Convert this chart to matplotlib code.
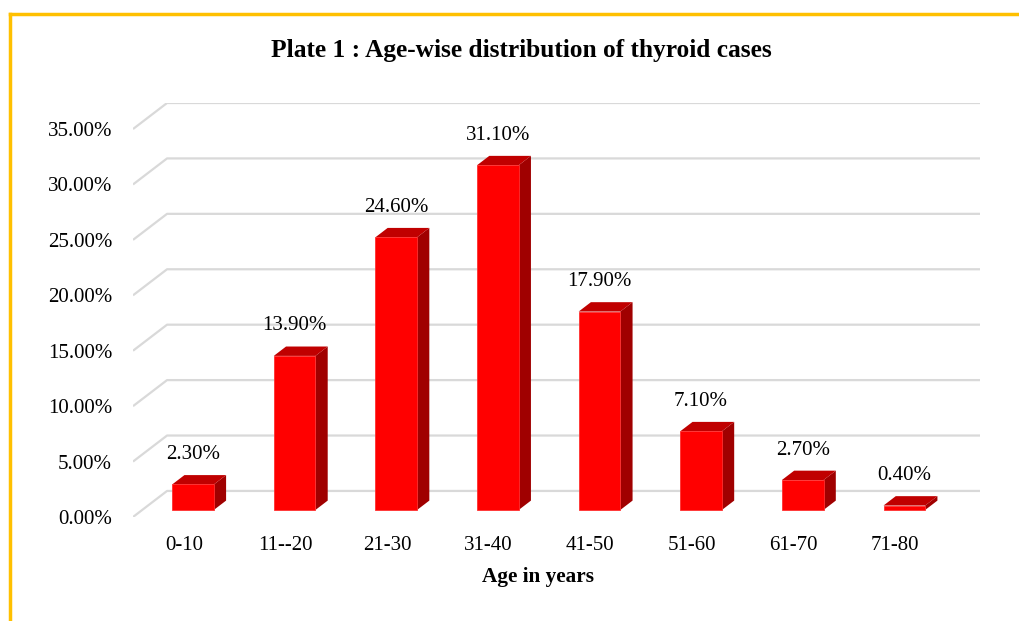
import numpy as np
import matplotlib.pyplot as plt
from matplotlib.patches import Polygon
from matplotlib.lines import Line2D

# data
age_groups = ['0-10', '11--20', '21-30', '31-40', '41-50', '51-60', '61-70', '71-80']
share = [2.3, 13.9, 24.6, 31.1, 17.9, 7.1, 2.7, 0.4]
y_ticks = [0, 5, 10, 15, 20, 25, 30, 35]

# 3d look: depth offset of the floor in data units
DX, DY = 0.335, 2.35
f_front, f_back = 0.27, 0.63
bar_w = 0.41

plt.rcParams['font.family'] = ['Liberation Serif', 'DejaVu Serif']

fig = plt.figure(figsize=(10.19, 6.21), dpi=100)
ax = fig.add_axes([133/1019, 104/621, 847/1019, 414/621])
ax.set_xlim(-0.5, 7.5 + DX)
ax.set_ylim(0, 35 + DY)

# gridlines on a slanted floor/back wall
for v in y_ticks:
    ax.plot([-0.5, -0.5 + DX, 7.5 + DX], [v, v + DY, v + DY],
            color='#d9d9d9', lw=1.6, zorder=1, solid_capstyle='butt')

for i, val in enumerate(share):
    x0 = i - bar_w/2 + f_front*DX
    x1 = i + bar_w/2 + f_front*DX
    y0 = f_front*DY
    y1 = y0 + val
    ddx = (f_back - f_front)*DX
    ddy = (f_back - f_front)*DY
    side = Polygon([(x1, y0), (x1 + ddx, y0 + ddy), (x1 + ddx, y1 + ddy), (x1, y1)],
                   closed=True, fc='#a00000', ec='none', zorder=3)
    top = Polygon([(x0, y1), (x1, y1), (x1 + ddx, y1 + ddy), (x0 + ddx, y1 + ddy)],
                  closed=True, fc='#c00000', ec='none', zorder=3)
    front = Polygon([(x0, y0), (x1, y0), (x1, y1), (x0, y1)],
                    closed=True, fc='#ff0000', ec='#ff3030', lw=0.6, zorder=4)
    for p in (side, top, front):
        ax.add_patch(p)
    ax.annotate(f'{val:.2f}%', (i + f_front*DX, y1 + ddy), xytext=(0, 8),
                textcoords='offset points', ha='center', va='bottom', fontsize=15)

ax.set_yticks(y_ticks, [f'{v:.2f}%' for v in y_ticks])
ax.set_xticks(range(len(age_groups)), age_groups)
ax.tick_params(axis='y', length=0, pad=15, labelsize=15)
ax.tick_params(axis='x', length=0, pad=14, labelsize=15)
for s in ax.spines.values():
    s.set_visible(False)
ax.set_xlabel('Age in years', fontsize=15.3, fontweight='bold')
ax.xaxis.set_label_coords((538 - 133)/847, -(577 - 517)/414)
ax.xaxis.label.set_va('center')

fig.text(521/1019, 1 - 51/621, 'Plate 1 : Age-wise distribution of thyroid cases',
         ha='center', va='center', fontsize=18.3, fontweight='bold')

# yellow frame (top and left edges visible)
fig.add_artist(Line2D([10/1019, 1], [1 - 14/621, 1 - 14/621], color='#ffc000', lw=2.5,
                      transform=fig.transFigure))
fig.add_artist(Line2D([10/1019, 10/1019], [0, 1 - 14/621], color='#ffc000', lw=2.5,
                      transform=fig.transFigure))

fig.savefig('out.png', dpi=100)
